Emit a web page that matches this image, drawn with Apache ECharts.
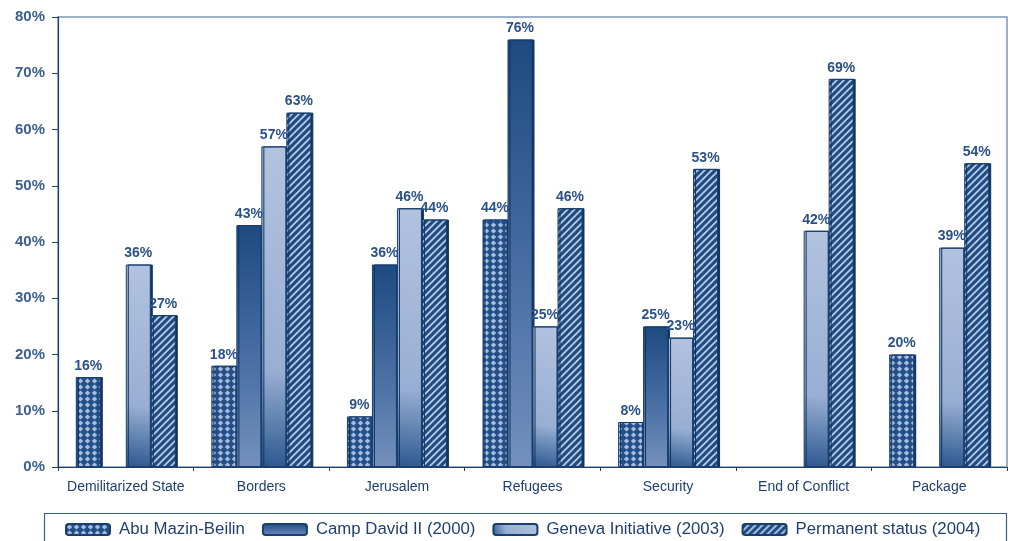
<!DOCTYPE html>
<html><head><meta charset="utf-8">
<script src="https://cdn.jsdelivr.net/npm/echarts@6/dist/echarts.min.js"></script>
<style>html,body{margin:0;padding:0;background:#fff}#c{width:1013px;height:541px}</style>
</head><body><div id="c"></div>
<script>
const categories = ['Demilitarized State','Borders','Jerusalem','Refugees','Security','End of Conflict','Package'];
const abuMazin = [16, 18, 9, 44, 8, null, 20];
const campDavid = [null, 43, 36, 76, 25, null, null];
const geneva = [36, 57, 46, 25, 23, 42, 39];
const permanent = [27, 63, 44, 46, 53, 69, 54];
const seriesNames = ['Abu Mazin-Beilin','Camp David II (2000)','Geneva Initiative (2003)','Permanent status (2004)'];

function diamondPattern(){
  const c=document.createElement('canvas'); c.width=7; c.height=6;
  const g=c.getContext('2d');
  g.fillStyle='#24508a'; g.fillRect(0,0,7,6);
  g.fillStyle='#a9bddc';
  g.beginPath(); g.moveTo(3.5,0.6); g.lineTo(6.2,3); g.lineTo(3.5,5.4); g.lineTo(0.8,3); g.closePath(); g.fill();
  return c;
}
function stripePattern(){
  const s=7;
  const c=document.createElement('canvas'); c.width=s; c.height=s;
  const g=c.getContext('2d');
  g.fillStyle='#1f4c84'; g.fillRect(0,0,s,s);
  g.strokeStyle='#b8cae4'; g.lineWidth=1.8;
  g.beginPath();
  g.moveTo(-1,s+1); g.lineTo(s+1,-1);
  g.moveTo(-s/2-1,s/2+1); g.lineTo(s/2+1,-s/2-1);
  g.moveTo(s/2-1,s*1.5+1); g.lineTo(s*1.5+1,s/2-1);
  g.stroke();
  return c;
}
const labelStyle = {show:true, position:'top', distance:4, color:'#2a5189', fontSize:14, fontWeight:'bold', fontFamily:'Liberation Sans, Arial, sans-serif', formatter: p => p.value==null ? '' : p.value + '%'};
const baseItem = {borderColor:'#173f70', borderWidth:1, shadowColor:'#12345e', shadowOffsetX:2, shadowOffsetY:0, shadowBlur:0};

const chart = echarts.init(document.getElementById('c'), null, {renderer:'canvas'});
chart.setOption({
  animation:false,
  backgroundColor:'#fff',
  grid:{left:58, right:6, top:17, bottom:74, show:true, borderColor:'#7c96ba', borderWidth:1.5, backgroundColor:'transparent'},
  xAxis:{type:'category', data:categories,
    axisLine:{lineStyle:{color:'#1f3f6e', width:1.2}},
    axisTick:{show:true, length:4, lineStyle:{color:'#1f3f6e'}},
    axisLabel:{interval:0, color:'#1f3f6e', fontSize:14, margin:13, fontFamily:'Liberation Sans, Arial, sans-serif'}},
  yAxis:{type:'value', min:0, max:80, interval:10,
    axisLine:{show:true, lineStyle:{color:'#1f3f6e', width:1.2}},
    axisTick:{show:true, length:6, lineStyle:{color:'#1f3f6e'}},
    splitLine:{show:false},
    axisLabel:{formatter:'{value}%', color:'#3b5f8e', fontSize:15, fontWeight:'bold', margin:13, fontFamily:'Liberation Sans, Arial, sans-serif'}},
  legend:{left:60, top:516, itemWidth:44, itemHeight:11, itemGap:17, icon:'roundRect',
    textStyle:{color:'#1f3f6e', fontSize:16.8, fontFamily:'Liberation Sans, Arial, sans-serif', padding:[0,0,0,4]},
    data:seriesNames},
  graphic:[{type:'rect', left:42, top:511, shape:{width:962, height:40}, style:{fill:'none', stroke:'#3a5f8e', lineWidth:1.2}, z:-1}],
  series:[
    {name:seriesNames[0], type:'bar', data:abuMazin, barWidth:25, barGap:'0%',
      itemStyle:Object.assign({}, baseItem, {color:{image:diamondPattern(), repeat:'repeat'}}), label:labelStyle},
    {name:seriesNames[1], type:'bar', data:campDavid, barWidth:25, barGap:'0%',
      itemStyle:Object.assign({}, baseItem, {color:{type:'linear', x:0, y:0, x2:0, y2:1, colorStops:[{offset:0,color:'#1d4a80'},{offset:0.6,color:'#4d72a6'},{offset:1,color:'#7590bd'}]}}), label:labelStyle},
    {name:seriesNames[2], type:'bar', data:geneva, barWidth:25, barGap:'0%',
      itemStyle:Object.assign({}, baseItem, {color:{type:'linear', x:0, y:1, x2:1, y2:0, colorStops:[{offset:0,color:'#2c5890'},{offset:0.3,color:'#98aed2'},{offset:1,color:'#b2c3e0'}]}}), label:labelStyle},
    {name:seriesNames[3], type:'bar', data:permanent, barWidth:25, barGap:'0%',
      itemStyle:Object.assign({}, baseItem, {color:{image:stripePattern(), repeat:'repeat'}}), label:labelStyle}
  ]
});
</script></body></html>
